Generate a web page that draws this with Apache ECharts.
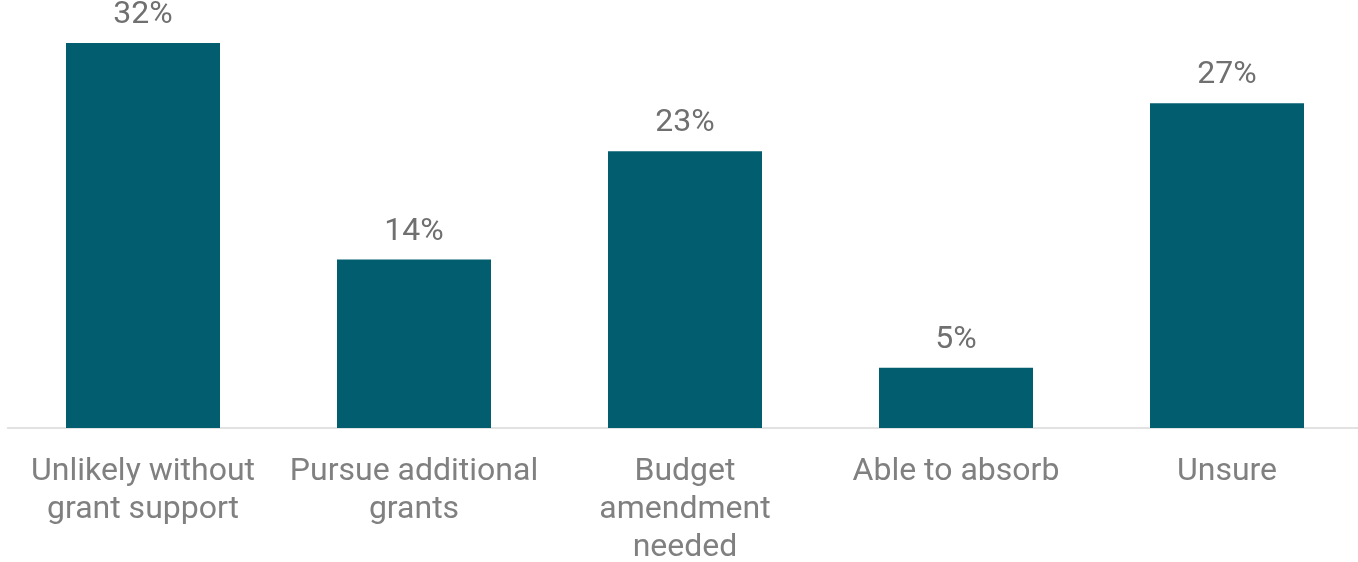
<!DOCTYPE html>
<html>
<head>
<meta charset="utf-8">
<style>
  html, body { margin: 0; padding: 0; background: #ffffff; }
  #chart { width: 1358px; height: 562px; }
</style>
<script src="https://cdn.jsdelivr.net/npm/echarts@6/dist/echarts.min.js"></script>
</head>
<body>
<div id="chart"></div>
<script>
// Share of responses by plan for continuing the work
const categories = [
  'Unlikely without\ngrant support',
  'Pursue additional\ngrants',
  'Budget\namendment\nneeded',
  'Able to absorb',
  'Unsure'
];
const shares = [32, 14, 23, 5, 27];

const chart = echarts.init(document.getElementById('chart'), null, { renderer: 'canvas' });

chart.setOption({
  animation: false,
  backgroundColor: '#ffffff',
  grid: {
    left: 7.5, width: 1355, top: 7, height: 421,
    containLabel: false,
    outerBoundsMode: 'none'
  },
  xAxis: {
    type: 'category',
    data: categories,
    axisLine: { show: true, lineStyle: { color: '#D9D9D9', width: 1.5 } },
    axisTick: { show: false },
    axisLabel: {
      interval: 0,
      margin: 25,
      fontFamily: 'Roboto',
      fontSize: 32,
      lineHeight: 38,
      color: '#808080'
    }
  },
  yAxis: {
    type: 'value',
    min: 0,
    max: 35,
    show: false,
    splitLine: { show: false }
  },
  series: [{
    type: 'bar',
    data: shares,
    barWidth: 154,
    itemStyle: { color: '#025E6E' },
    label: {
      show: true,
      position: 'top',
      distance: 12,
      formatter: '{c}%',
      fontFamily: 'Roboto',
      fontSize: 32,
      color: '#707070'
    }
  }]
});
</script>
</body>
</html>
